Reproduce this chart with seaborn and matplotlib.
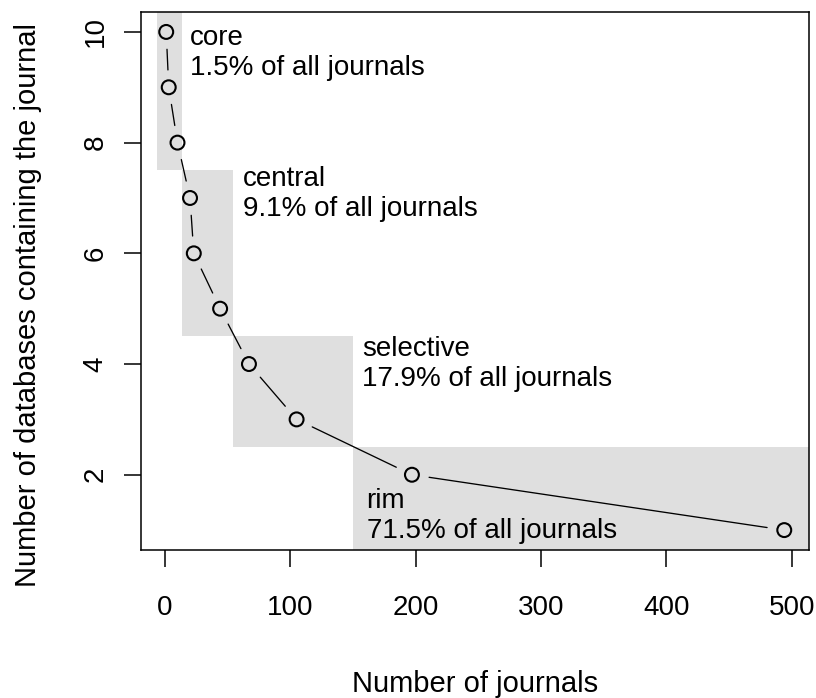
import matplotlib
matplotlib.use("Agg")
import matplotlib.pyplot as plt
import seaborn as sns
from matplotlib.patches import Rectangle

# journals found in exactly n of the databases
n_databases = [10, 9, 8, 7, 6, 5, 4, 3, 2, 1]
n_journals = [1, 3, 10, 20, 23, 44, 67, 105, 197, 494]

# shaded groups
group_names = ["core", "central", "selective", "rim"]
group_share = ["1.5%", "9.1%", "17.9%", "71.5%"]
group_x0 = [-6.7, 13.5, 54, 150]
group_x1 = [13.5, 54, 150, 600]
group_y0 = [7.5, 4.5, 2.5, 0]
group_y1 = [11, 7.5, 4.5, 2.5]
# baseline of the second label line
label_x = [20.2, 61.9, 157.2, 160.8]
label_y = [9.23, 6.68, 3.61, 0.86]

x_ticks = [0, 100, 200, 300, 400, 500]
y_ticks = [2, 4, 6, 8, 10]


def r_lim(v):
    # R's default 4% axis padding
    lo, hi = min(v), max(v)
    d = (hi - lo) * 0.04
    return lo - d, hi + d


sns.set_style("ticks")
plt.rcParams["font.family"] = ["Liberation Sans", "DejaVu Sans"]
FS = 20

fig = plt.figure(figsize=(8.16, 6.98), dpi=100)
ax = fig.add_axes([0.1734, 0.2120, 0.818, 0.7708])

for x0, x1, y0, y1 in zip(group_x0, group_x1, group_y0, group_y1):
    ax.add_patch(Rectangle((x0, y0), x1 - x0, y1 - y0, facecolor="#dfdfdf",
                           edgecolor="none", zorder=0))

# type="b": segments stop short of the points
for i in range(len(n_journals) - 1):
    ax.annotate("", xy=(n_journals[i + 1], n_databases[i + 1]),
                xytext=(n_journals[i], n_databases[i]),
                arrowprops=dict(arrowstyle="-", color="black", lw=0.95,
                                shrinkA=12.5, shrinkB=12.5), zorder=2)

sns.scatterplot(x=n_journals, y=n_databases, ax=ax, marker="o", s=100,
                facecolor="none", edgecolor="black", linewidth=1.5, zorder=3)

for name, share, tx, ty in zip(group_names, group_share, label_x, label_y):
    ax.text(tx, ty, f"{name}\n{share} of all journals", fontsize=FS,
            ha="left", va="baseline", color="black", zorder=4)

ax.set_xlim(*r_lim(n_journals))
ax.set_ylim(*r_lim(n_databases))
ax.set_xticks(x_ticks)
ax.set_yticks(y_ticks)
ax.set_xticklabels([str(t) for t in x_ticks])
ax.set_yticklabels([str(t) for t in y_ticks], rotation=90, va="center")

ax.tick_params(axis="both", direction="out", length=12.2, width=1.1,
               color="black", labelsize=FS, labelcolor="black")
ax.tick_params(axis="x", pad=20)
ax.tick_params(axis="y", pad=11.5)

for sp in ax.spines.values():
    sp.set_visible(True)
    sp.set_linewidth(1.1)
    sp.set_color("black")

ax.set_xlabel("Number of journals", fontsize=21, color="black")
ax.set_ylabel("Number of databases containing the journal", fontsize=21,
              color="black")
ax.xaxis.set_label_coords(0.5, -0.223)
ax.yaxis.label.set_va("center")
ax.yaxis.set_label_coords(-0.170, 0.455)

fig.savefig("out.png", dpi=100)
